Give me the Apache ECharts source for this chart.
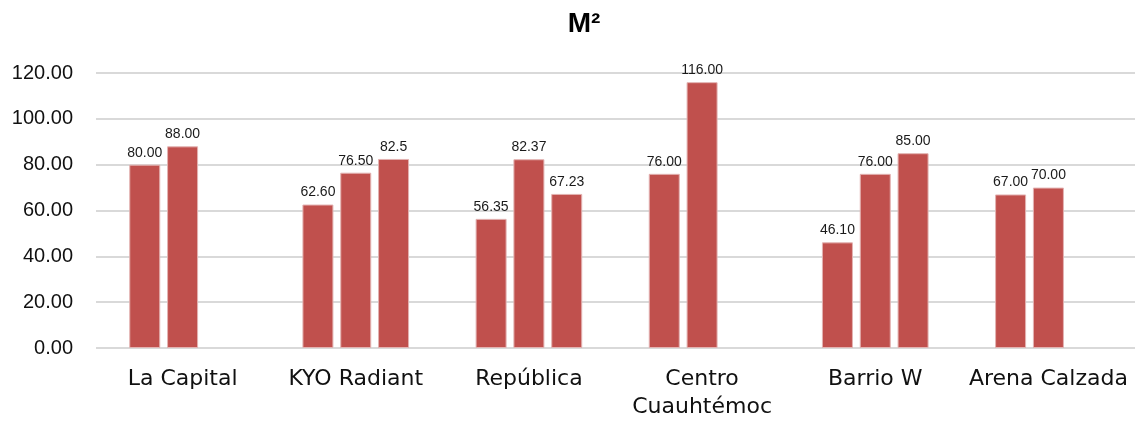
<!DOCTYPE html>
<html>
<head>
<meta charset="utf-8">
<script src="https://cdn.jsdelivr.net/npm/echarts@6/dist/echarts.min.js"></script>
<style>html,body{margin:0;padding:0;background:#fff}#c{width:1137px;height:421px}</style>
</head>
<body>
<div id="c"></div>
<script>
const categories = ['La Capital', 'KYO Radiant', 'República', 'Centro\nCuauhtémoc', 'Barrio W', 'Arena Calzada'];
const series1 = [80.00, 62.60, 56.35, 76.00, 46.10, 67.00];
const series2 = [88.00, 76.50, 82.37, 116.00, 76.00, 70.00];
const series3 = ['-', 82.5, 67.23, '-', 85.00, '-'];
const labels1 = ['80.00', '62.60', '56.35', '76.00', '46.10', '67.00'];
const labels2 = ['88.00', '76.50', '82.37', '116.00', '76.00', '70.00'];
const labels3 = ['', '82.5', '67.23', '', '85.00', ''];
const yTicks = [0, 20, 40, 60, 80, 100, 120];

const font = '"Liberation Sans", Arial, sans-serif';
const wideFont = '"DejaVu Sans", "Liberation Sans", sans-serif';
const barColor = '#C0504D';
function mk(name, data, lbls) {
  return {
    name: name, type: 'bar', data: data,
    barWidth: 31, barGap: '22%',
    itemStyle: { color: barColor, borderColor: '#e3b3b2', borderWidth: 1 },
    label: {
      show: true, position: 'top', distance: 5,
      fontFamily: font, fontSize: 14, color: '#1a1a1a',
      formatter: p => lbls[p.dataIndex]
    }
  };
}
const chart = echarts.init(document.getElementById('c'));
chart.setOption({
  animation: false,
  title: {
    text: 'M²', left: 579, top: 5, textAlign: 'center',
    textStyle: { fontFamily: font, fontSize: 28, fontWeight: 'bold', color: '#000' }
  },
  grid: { left: 96, right: 2, top: 73, bottom: 72, containLabel: false },
  xAxis: {
    type: 'category', data: categories,
    axisLine: { show: false }, axisTick: { show: false },
    axisLabel: { fontFamily: wideFont, fontSize: 22, color: '#111', margin: 17, lineHeight: 28, interval: 0 }
  },
  yAxis: {
    type: 'value', min: yTicks[0], max: yTicks[yTicks.length - 1], interval: 20,
    axisLine: { show: false }, axisTick: { show: false },
    splitLine: { lineStyle: { color: '#d9d9d9', width: 2 } },
    axisLabel: { fontFamily: font, fontSize: 20, color: '#111', margin: 23, formatter: v => v.toFixed(2) }
  },
  series: [mk('A', series1, labels1), mk('B', series2, labels2), mk('C', series3, labels3)]
});
</script>
</body>
</html>
